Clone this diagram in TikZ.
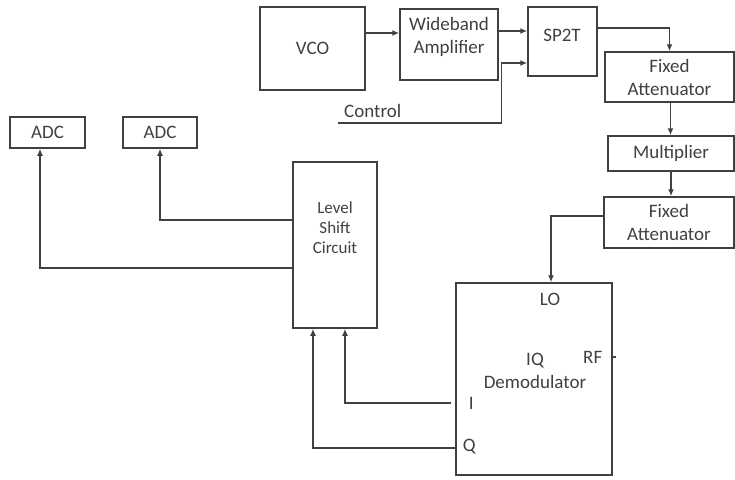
\documentclass[tikz,border=0pt]{standalone}
\usepackage{fontspec}
\setmainfont{Carlito}
\usepackage{tikz}
\usetikzlibrary{arrows.meta}
\usetikzlibrary{positioning}
\tikzset{
  bloco/.style={draw=black!75, line width=1.5pt, minimum width=#1, inner sep=0pt, align=center, text=black!75, font=\fontsize{19}{23}\selectfont},
  bloco/.default=100pt,
  rotulo/.style={inner sep=0pt, align=center, text=black!75, font=\fontsize{19}{23}\selectfont},
  seta/.style={-{Latex[length=7pt,width=6pt]}, draw=black!75, line width=1.5pt},
  fio/.style={draw=black!75, line width=1.5pt},
}
\begin{document}
\begin{tikzpicture}[x=1pt, y=-1pt]
  \useasboundingbox (0,0) rectangle (735,479);
  % top chain
  \node[bloco=105pt, minimum height=83pt] (vco) at (312.5,48.5) {VCO};
  \node[bloco=98pt, minimum height=71pt] (amp) at (449,44.5) {};
  \node[rotulo] (ampt) at ([yshift=-29pt]amp.north) {Wideband\\Amplifier};
  \node[rotulo] (swt) at (562,35) {SP2T};
  \node[bloco=69pt, minimum height=69pt] (sw) at (562.5,41.5) {};
  \node[bloco=129pt, minimum height=50pt] (att1) at (669.5,77) {Fixed\\Attenuator};
  \node[bloco=126pt, minimum height=35pt] (mult) at (671,153.5) {Multiplier};
  \node[bloco=130pt, minimum height=51pt] (att2) at (669,222.5) {Fixed\\Attenuator};
  % demodulator and level shift
  \node[bloco=156pt, minimum height=192pt] (iq) at (534,379) {};
  \node[rotulo] (lo) at ([xshift=16pt,yshift=-17pt]iq.north) {LO};
  \node[rotulo] (iqt) at ([xshift=1pt,yshift=8pt]iq.center) {IQ\\Demodulator};
  \node[rotulo] (rf) at ([xshift=-20pt,yshift=22pt]iq.east) {RF};
  \node[rotulo] (ii) at ([xshift=16pt,yshift=-24pt]iq.west) {I};
  \node[rotulo] (qq) at ([xshift=14pt,yshift=-68pt]iq.west) {Q};
  \node[bloco=84pt, minimum height=166pt] (lsc) at (335,245) {};
  \node[rotulo, font=\fontsize{17}{20}\selectfont] (lsct) at ([yshift=-66pt]lsc.north) {Level\\Shift\\Circuit};
  \node[bloco=75pt, minimum height=31pt] (adc1) at (47.5,132.5) {ADC};
  \node[bloco=74pt, minimum height=31pt] (adc2) at (160,132.5) {ADC};
  % connectors
  \coordinate (v1) at ([yshift=15.5pt]vco.east);
  \draw[seta] (v1) -- (v1 -| amp.west);
  \coordinate (a1) at ([yshift=13.5pt]amp.east);
  \draw[seta] (a1) -- (a1 -| sw.west);
  \coordinate (ctl) at (338,123);
  \coordinate (c2) at ([yshift=-21.5pt]sw.west);
  \draw[seta] (ctl) -| ([xshift=-26pt]c2) -- (c2);
  \node[rotulo, anchor=south west] (ctlt) at ([xshift=6pt,yshift=5pt]ctl) {Control};
  \draw[seta] ([yshift=13.5pt]sw.east) -| (att1.north);
  \draw[seta] ([xshift=1pt]att1.south) -- ([xshift=1pt]att1.south |- mult.north);
  \draw[seta] (mult.south) -- (mult.south |- att2.north);
  \draw[seta] ([yshift=6.5pt]att2.west) -| ([xshift=17pt]iq.north);
  \draw[fio] (iq.east |- rf) -- ++(3,0);
  \draw[seta] ([xshift=-4pt,yshift=-24pt]iq.west) -| ([xshift=10pt]lsc.south);
  \draw[seta] ([yshift=-69pt]iq.west) -| ([xshift=-22pt]lsc.south);
  \draw[seta] ([yshift=25pt]lsc.west) -| (adc2.south);
  \draw[seta] ([yshift=-23pt]lsc.west) -| ([xshift=-7.5pt]adc1.south);
\end{tikzpicture}
\end{document}
